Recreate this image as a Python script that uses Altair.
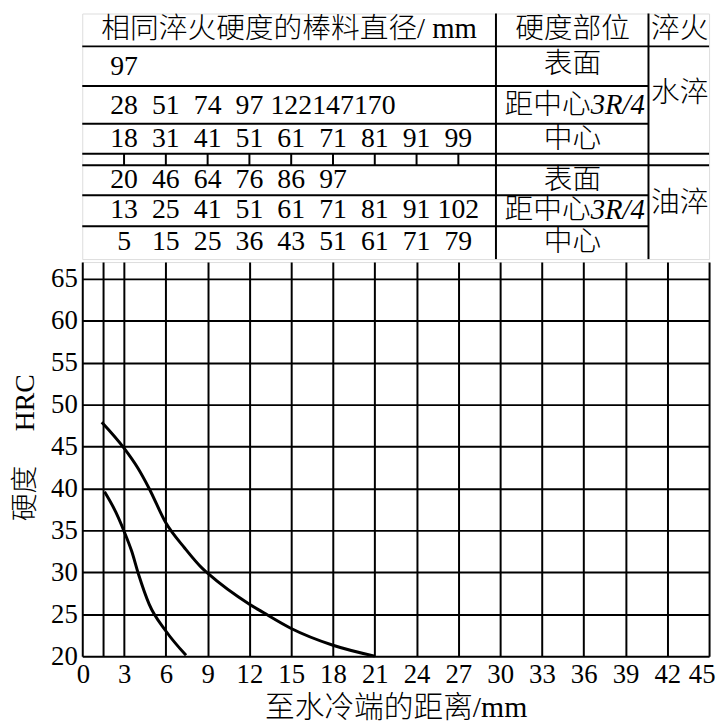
import altair as alt
import pandas as pd

# ---------------- data ----------------
# Jominy positions (mm) at which the equal-hardness bar diameters are listed
jominy_mm = [3, 6, 9, 12, 15, 18, 21, 24, 27]

water_surface = [97]
water_34r = [28, 51, 74, 97, 122, 147, 170]
water_center = [18, 31, 41, 51, 61, 71, 81, 91, 99]
oil_surface = [20, 46, 64, 76, 86, 97]
oil_34r = [13, 25, 41, 51, 61, 71, 81, 91, 102]
oil_center = [5, 15, 25, 36, 43, 51, 61, 71, 79]

header_diam = "相同淬火硬度的棒料直径/ mm"
header_pos = "硬度部位"
header_quench = "淬火"
pos_surface = "表面"
pos_34r_cjk = "距中心"
pos_34r_sym = "3R/4"
pos_center = "中心"
quench_water = "水淬"
quench_oil = "油淬"

# hardness curves (distance mm, HRC)
upper_x = [1.4, 3.0, 4.0, 4.8, 6.0, 7.35, 8.6, 9.0, 12.0, 13.0, 15.0, 18.0, 21.0]
upper_y = [47.9, 44.8, 42.4, 40.0, 35.9, 32.9, 30.5, 29.9, 26.2, 25.2, 23.3, 21.3, 20.0]
lower_x = [1.6, 2.4, 3.0, 3.55, 4.05, 4.8, 6.0, 7.45]
lower_y = [39.6, 37.2, 34.9, 32.5, 29.7, 26.2, 23.0, 20.1]

x_ticks = [0, 3, 6, 9, 12, 15, 18, 21, 24, 27, 30, 33, 36, 39, 42, 45]
x_grid = [0, 1.5] + x_ticks[1:]
y_ticks = [20, 25, 30, 35, 40, 45, 50, 55, 60, 65]

x_title = "至水冷端的距离/mm"
y_title = "硬度\u00a0\u00a0\u00a0\u00a0\u00a0HRC"

# ---------------- layout ----------------
W = 633
H_TABLE = 248
H_PLOT = 398
SERIF = "Liberation Serif"
MIXED = "Liberation Serif, Noto Sans CJK SC"
CJK_W = 300

xs = alt.Scale(domain=[0, 45], nice=False, zero=False)
ys_t = alt.Scale(domain=[0, 254], nice=False, zero=False, reverse=True)

COL1 = 29.7   # divider between diameters and position column (mm units)
COL2 = 40.65  # divider between position and quench column
row_y = [55, 96, 130, 172, 203, 236]

# table lines
segs = []
for yv in [34, 145, 157]:
    segs.append(dict(x=0, x2=45, y=yv, y2=yv))
for yv in [75, 114, 188, 220]:
    segs.append(dict(x=0, x2=COL2, y=yv, y2=yv))
for xv in [COL1, COL2]:
    segs.append(dict(x=xv, x2=xv, y=0, y2=254))
for xv in jominy_mm:
    segs.append(dict(x=xv, x2=xv, y=145, y2=157))
seg_df = pd.DataFrame(segs)

rules = alt.Chart(seg_df).mark_rule(color="black", strokeWidth=2).encode(
    x=alt.X("x:Q", scale=xs, axis=None),
    x2="x2:Q",
    y=alt.Y("y:Q", scale=ys_t, axis=None),
    y2="y2:Q",
)

# numbers
num_rows = [water_surface, water_34r, water_center, oil_surface, oil_34r, oil_center]
nums = []
for r, vals in enumerate(num_rows):
    for i, v in enumerate(vals):
        nums.append(dict(x=jominy_mm[i], y=row_y[r], t=str(v)))
num_df = pd.DataFrame(nums)
num_text = alt.Chart(num_df).mark_text(
    font=SERIF, fontSize=28, color="black", align="center", baseline="middle"
).encode(x=alt.X("x:Q", scale=xs, axis=None), y=alt.Y("y:Q", scale=ys_t, axis=None), text="t:N")

# centred labels
lab = [
    dict(x=14.85, y=16, t=header_diam),
    dict(x=35.2, y=16, t=header_pos),
    dict(x=42.9, y=16, t=header_quench),
    dict(x=35.2, y=row_y[0] - 3, t=pos_surface),
    dict(x=35.2, y=row_y[2], t=pos_center),
    dict(x=35.2, y=row_y[3], t=pos_surface),
    dict(x=35.2, y=row_y[5], t=pos_center),
    dict(x=42.9, y=82, t=quench_water),
    dict(x=42.9, y=196, t=quench_oil),
]
lab_df = pd.DataFrame(lab)
lab_text = alt.Chart(lab_df).mark_text(
    font=MIXED, fontSize=29, fontWeight=CJK_W, color="black", align="center", baseline="middle"
).encode(x=alt.X("x:Q", scale=xs, axis=None), y=alt.Y("y:Q", scale=ys_t, axis=None), text="t:N")

r34_df = pd.DataFrame([dict(x=36.5, y=row_y[1] - 1, t=pos_34r_cjk), dict(x=36.5, y=row_y[4], t=pos_34r_cjk)])
r34_cjk = alt.Chart(r34_df).mark_text(
    font=MIXED, fontSize=29, fontWeight=CJK_W, color="black", align="right", baseline="middle"
).encode(x=alt.X("x:Q", scale=xs, axis=None), y=alt.Y("y:Q", scale=ys_t, axis=None), text="t:N")
r34s_df = pd.DataFrame([dict(x=36.5, y=row_y[1] - 1, t=pos_34r_sym), dict(x=36.5, y=row_y[4], t=pos_34r_sym)])
r34_sym = alt.Chart(r34s_df).mark_text(
    font=SERIF, fontSize=29, fontStyle="italic", color="black", align="left", baseline="middle"
).encode(x=alt.X("x:Q", scale=xs, axis=None), y=alt.Y("y:Q", scale=ys_t, axis=None), text="t:N")

table = alt.layer(rules, num_text, lab_text, r34_cjk, r34_sym).properties(width=W, height=H_TABLE)

# ---------------- plot ----------------
curve_df = pd.DataFrame(
    dict(
        x=upper_x + lower_x,
        y=upper_y + lower_y,
        c=["a"] * len(upper_x) + ["b"] * len(lower_x),
    )
)

plot = alt.Chart(curve_df).mark_line(color="black", strokeWidth=3, interpolate="monotone").encode(
    x=alt.X(
        "x:Q",
        scale=alt.Scale(domain=[0, 45], nice=False, zero=False),
        axis=alt.Axis(
            values=x_grid,
            labelExpr="datum.value == 1.5 ? '' : datum.label",
            grid=True, gridColor="black", gridWidth=2, gridOpacity=1,
            ticks=False, domain=False,
            labelFont=SERIF, labelFontSize=27, labelColor="black", labelPadding=6,
            labelFlush=True, labelFlushOffset=6, labelOverlap=False,
            title=x_title, titleFont=MIXED, titleFontSize=30, titleFontWeight=CJK_W,
            titleColor="black", titlePadding=5,
        ),
    ),
    y=alt.Y(
        "y:Q",
        scale=alt.Scale(domain=[20, 67], nice=False, zero=False),
        axis=alt.Axis(
            values=y_ticks,
            grid=True, gridColor="black", gridWidth=2, gridOpacity=1,
            ticks=False, domain=False,
            labelFont=SERIF, labelFontSize=27, labelColor="black", labelPadding=5,
            labelOverlap=False,
            title=y_title, titleFont=MIXED, titleFontSize=28, titleFontWeight=CJK_W,
            titleColor="black", titlePadding=11, titleY=187,
        ),
    ),
    detail="c:N",
).properties(width=W, height=H_PLOT)

chart = alt.vconcat(table, plot, spacing=0).properties(
    padding={"left": 3, "top": 0, "right": 0, "bottom": 0}
).configure_view(stroke="black", strokeWidth=2).configure(background="white")

chart.save("out.html", embed_options={"renderer": "svg", "actions": False})
